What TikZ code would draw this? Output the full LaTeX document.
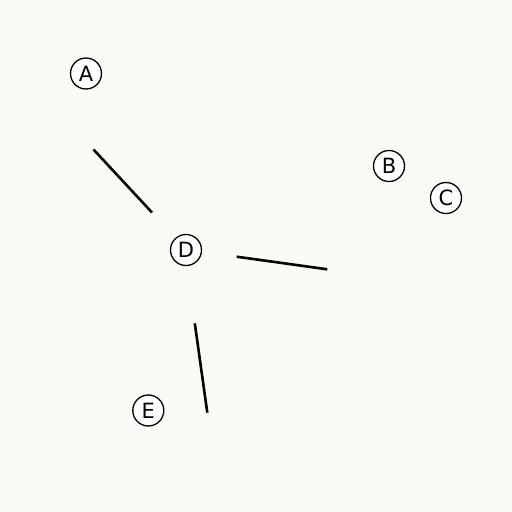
\documentclass[tikz,border=0pt]{standalone}
\usepackage{fontspec}
\setmainfont{DejaVu Sans}
\definecolor{paper}{RGB}{250,250,247}

\begin{document}
\begin{tikzpicture}
        [x=1pt,y=-1pt,every node/.style={draw,shape=circle,fill=white,inner sep=0,minimum size=31pt,line width=1.3pt,font=\fontsize{21}{21}\selectfont}, stroke/.style={line width=2.6pt, black}]

        \fill[paper] (0,0) rectangle (512,512);
        \useasboundingbox (0,0) rectangle (512,512);

        \node (vA) at (86, 73.5) {A};
        \node (vB) at (389, 166) {B};
        \node (vC) at (446, 198) {C};
        \node (vD) at (186, 250) {D};
        \node (vE) at (148.3, 410.5) {E};

        \coordinate (s1) at (93.5, 149.5);
        \coordinate (t1) at (152, 212.5);
        \coordinate (s2) at (236.7, 256.7);
        \coordinate (t2) at (327.3, 269.3);
        \coordinate (s3) at (194.8, 323.3);
        \coordinate (t3) at (207.3, 412.7);

        \draw[stroke] (s1) -- (t1);
        \draw[stroke] (s2) -- (t2);
        \draw[stroke] (s3) -- (t3);

      \end{tikzpicture}
\end{document}
